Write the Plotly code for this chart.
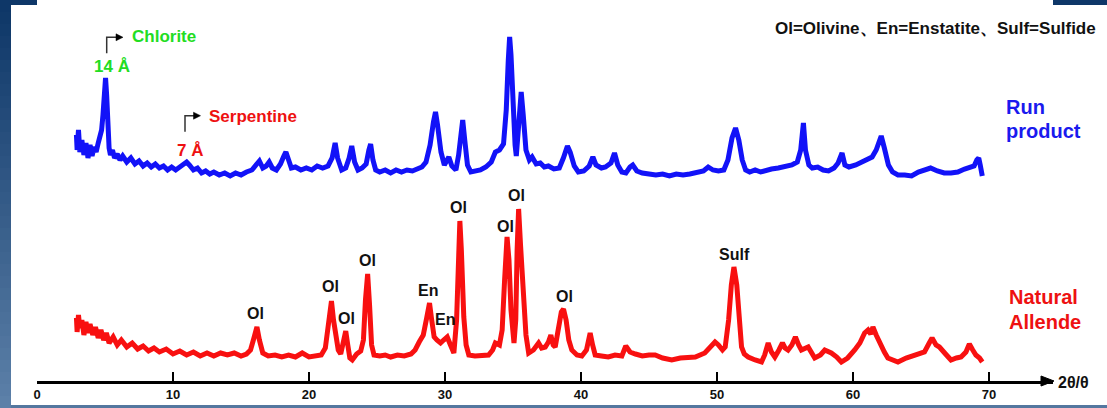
import plotly.graph_objects as go

# ---------------- data (2theta in degrees, intensity in arbitrary units) ----------------
run_2theta = [2.90, 2.95, 3.05, 3.15, 3.3, 3.45, 3.6, 3.75, 3.9, 4.05, 4.2, 4.35, 4.5, 4.6, 4.75, 4.85, 4.95, 5.04,
              5.12, 5.2, 5.3, 5.4, 5.55, 5.7, 5.9, 6.1, 6.3, 6.6, 6.9, 7.2, 7.5, 7.8, 8.1, 8.4, 8.7, 9.0, 9.3, 9.6,
              9.9, 10.2, 10.5, 10.8, 11.0, 11.2, 11.5, 11.8, 12.1, 12.4, 12.7, 13.0, 13.4, 13.8, 14.2, 14.6, 15.0,
              15.4, 15.8, 16.1, 16.35, 16.6, 16.85, 17.07, 17.3, 17.6, 17.9, 18.15, 18.3, 18.5, 18.7, 19.0, 19.4,
              19.8, 20.2, 20.6, 21.0, 21.4, 21.7, 21.92, 22.1, 22.4, 22.7, 22.95, 23.14, 23.35, 23.6, 23.9, 24.2,
              24.4, 24.53, 24.7, 24.9, 25.2, 25.6, 26.0, 26.4, 26.8, 27.2, 27.6, 28.0, 28.3, 28.6, 28.9, 29.15,
              29.3, 29.45, 29.7, 29.95, 30.1, 30.28, 30.5, 30.8, 31.0, 31.2, 31.3, 31.45, 31.65, 31.9, 32.2, 32.6,
              33.0, 33.4, 33.7, 34.0, 34.3, 34.5, 34.65, 34.75, 34.85, 35.0, 35.15, 35.24, 35.4, 35.6, 35.75,
              35.95, 36.2, 36.4, 36.7, 37.0, 37.3, 37.6, 38.0, 38.4, 38.7, 39.0, 39.2, 39.5, 39.8, 40.2, 40.6,
              40.87, 41.1, 41.5, 41.8, 42.2, 42.46, 42.7, 43.0, 43.3, 43.6, 43.8, 44.1, 44.5, 45.0, 45.5, 46.0,
              46.5, 47.0, 47.5, 48.0, 48.5, 49.0, 49.35, 49.7, 50.1, 50.5, 50.8, 51.1, 51.36, 51.6, 51.85, 52.1,
              52.4, 52.8, 53.2, 53.6, 54.0, 54.5, 55.0, 55.5, 55.9, 56.15, 56.35, 56.5, 56.75, 57.0, 57.4, 57.8,
              58.2, 58.6, 58.9, 59.19, 59.4, 59.7, 60.2, 60.6, 61.0, 61.4, 61.7, 61.9, 62.07, 62.3, 62.6, 62.9,
              63.3, 63.8, 64.3, 64.8, 65.2, 65.7, 66.2, 66.7, 67.2, 67.7, 68.2, 68.6, 68.9, 69.1, 69.24, 69.35, 69.5]
run_product = [76, 61, 81, 59, 71, 56, 68, 53, 66, 55, 64, 59, 68, 73, 81, 96, 121, 133,
               116, 86, 63, 56, 61, 53, 57, 51, 55, 49, 53, 47, 50, 45, 48, 44, 47, 43, 45, 41,
               44, 41, 44, 48, 49, 46, 41, 43, 38, 40, 37, 39, 36, 38, 35, 38, 36,
               39, 41, 46, 50, 43, 45, 49, 43, 41, 47, 55, 59, 51, 43, 44, 41,
               43, 41, 45, 43, 45, 53, 68, 53, 41, 43, 53, 65, 49, 41, 43, 47,
               61, 67, 51, 41, 39, 41, 38, 41, 39, 41, 40, 42, 44, 49, 66, 89,
               99, 86, 59, 46, 51, 54, 45, 41, 56, 86, 91, 71, 46, 39, 40, 41,
               44, 49, 59, 61, 67, 101, 151, 174, 156, 101, 66, 55, 86, 119, 96,
               61, 51, 54, 47, 48, 44, 45, 42, 43, 53, 65, 59, 45, 39, 40, 45,
               54, 46, 43, 44, 48, 58, 46, 39, 38, 44, 46, 40, 38, 37, 36, 37,
               35, 37, 36, 37, 39, 40, 44, 41, 40, 41, 51, 73, 83, 71, 51, 41,
               39, 41, 39, 41, 42, 43, 45, 46, 49, 61, 88, 61, 46, 43, 44, 41,
               40, 43, 48, 58, 46, 44, 46, 49, 51, 54, 61, 71, 75, 63, 46, 39,
               36, 36, 35, 39, 41, 43, 40, 38, 38, 39, 42, 44, 45, 51, 53, 46, 35]

nat_2theta = [2.90, 2.95, 3.05, 3.15, 3.3, 3.45, 3.6, 3.75, 3.9, 4.1, 4.3, 4.5, 4.7, 4.9, 5.1, 5.3, 5.6, 5.9, 6.2,
              6.6, 7.0, 7.4, 7.8, 8.2, 8.6, 9.0, 9.5, 10.0, 10.5, 11.0, 11.5, 12.0, 12.5, 13.0, 13.5, 14.0, 14.5,
              15.0, 15.4, 15.7, 15.95, 16.17, 16.35, 16.6, 17.0, 17.5, 18.0, 18.5, 19.0, 19.5, 20.0, 20.5, 20.9,
              21.2, 21.45, 21.65, 21.8, 21.95, 22.15, 22.33, 22.55, 22.7, 22.85, 23.0, 23.18, 23.5, 23.8, 24.0,
              24.15, 24.31, 24.45, 24.6, 24.78, 25.2, 25.6, 26.0, 26.5, 27.0, 27.5, 27.8, 28.1, 28.4, 28.65, 28.86,
              29.0, 29.2, 29.4, 29.67, 29.9, 30.16, 30.4, 30.65, 30.85, 30.98, 31.09, 31.2, 31.38, 31.55, 31.75,
              32.2, 32.7, 33.2, 33.5, 33.7, 34.0, 34.2, 34.38, 34.56, 34.7, 34.85, 35.07, 35.2, 35.3, 35.41, 35.55,
              35.78, 35.95, 36.15, 36.5, 36.88, 37.1, 37.37, 37.6, 37.78, 37.95, 38.1, 38.35, 38.55, 38.71, 38.9,
              39.1, 39.32, 39.7, 40.06, 40.4, 40.67, 40.85, 41.04, 41.5, 42.0, 42.5, 43.0, 43.29, 43.6, 44.0, 44.5,
              45.0, 45.45, 46.0, 46.67, 47.3, 47.89, 48.4, 49.1, 49.5, 49.85, 50.1, 50.4, 50.6, 50.85, 51.05, 51.24,
              51.45, 51.65, 51.8, 52.0, 52.29, 52.8, 53.27, 53.5, 53.76, 54.0, 54.25, 54.55, 54.81, 55.0, 55.22,
              55.5, 55.76, 56.0, 56.2, 56.7, 57.18, 57.6, 57.92, 58.4, 58.8, 59.14, 59.6, 60.12, 60.5, 60.85, 61.1,
              61.3, 61.46, 61.7, 61.95, 62.3, 62.56, 63.0, 63.3, 63.9, 64.52, 65.0, 65.25, 65.6, 65.81, 66.1, 66.35,
              66.8, 67.2, 67.6, 67.94, 68.3, 68.55, 68.8, 69.03, 69.3, 69.5]
natural_allende = [63, 49, 66, 53, 61, 46, 59, 48, 57, 46, 54, 43, 51, 41, 48, 38, 44, 36, 41,
                   34, 38, 32, 35, 30, 33, 29, 32, 27, 30, 26, 29, 25, 28, 25, 28, 26, 28,
                   25, 27, 31, 43, 54, 41, 28, 25, 26, 24, 26, 24, 28, 24, 25, 26,
                   33, 61, 80, 61, 46, 31, 27, 41, 50, 36, 23, 21, 27, 30, 41,
                   81, 107, 76, 36, 26, 25, 26, 24, 26, 25, 27, 31, 39, 46, 63, 78,
                   63, 44, 41, 38, 41, 44, 36, 28, 61, 121, 160, 131, 64, 36, 26,
                   25, 25, 26, 31, 38, 36, 51, 101, 144, 121, 71, 38, 61, 131, 172, 136,
                   84, 46, 28, 31, 38, 33, 34, 39, 46, 36, 34, 51, 69, 72, 61,
                   41, 31, 26, 25, 31, 48, 36, 26, 25, 24, 26, 25, 35, 29, 27, 25,
                   26, 26, 23, 21, 23, 23, 24, 28, 33, 39, 36, 31, 34, 61, 96, 114,
                   96, 61, 34, 27, 24, 21, 19, 26, 38, 29, 24, 31, 38, 33, 31,
                   36, 44, 36, 31, 34, 23, 26, 31, 28, 24, 19, 23, 31, 38, 48, 51,
                   47, 54, 46, 38, 29, 23, 21, 19, 23, 26, 28, 29, 38, 43, 36, 34,
                   27, 21, 23, 24, 29, 37, 31, 26, 23, 19]

tick_values = [0, 10, 20, 30, 40, 50, 60, 70]

# peak labels: text, 2theta position, label height
peak_labels = ["Ol", "Ol", "Ol", "Ol", "En", "En", "Ol", "Ol", "Ol", "Ol", "Sulf"]
peak_label_x = [16.05, 21.6, 22.74, 24.28, 28.76, 29.98, 30.96, 34.48, 35.29, 38.77, 51.26]
peak_label_y = [67.7, 95, 62.7, 121, 91, 62, 173.7, 154.3, 186, 85, 127]

RUN_OFFSET = 170  # vertical stacking offset of the run product pattern

# ---------------- geometry helpers (pixel -> paper) ----------------
W, H = 1107, 408
ML, MR, MB, MT = 37, 54, 27, 0
PW, PH = W - ML - MR, H - MB - MT
XMAX = 74.7


def px(x):
    return (x - ML) / PW


def py(y):
    return (H - MB - y) / PH


FONT = "Liberation Sans, Arial, sans-serif"

fig = go.Figure()
fig.add_trace(go.Scatter(x=run_2theta, y=[v + RUN_OFFSET for v in run_product], mode="lines",
                         line=dict(color="#1212f8", width=5), showlegend=False, hoverinfo="skip"))
fig.add_trace(go.Scatter(x=nat_2theta, y=natural_allende, mode="lines",
                         line=dict(color="#f81010", width=5), showlegend=False, hoverinfo="skip"))

shapes = []
# white panel
shapes.append(dict(type="rect", xref="paper", yref="paper", x0=px(11), x1=px(1108), y0=py(405), y1=py(5),
                   fillcolor="white", line=dict(width=0), layer="below"))
# left gradient strip
n = 34
for i in range(n):
    t = i / (n - 1)
    r = int(14 + t * (92 - 14))
    g = int(55 + t * (128 - 55))
    b = int(104 + t * (168 - 104))
    shapes.append(dict(type="rect", xref="paper", yref="paper", x0=px(-1), x1=px(11),
                       y0=py(min(409, (i + 1) * 12 + 0.5)), y1=py(i * 12), fillcolor=f"rgb({r},{g},{b})",
                       line=dict(width=0), layer="below"))
# bottom strip
shapes.append(dict(type="rect", xref="paper", yref="paper", x0=px(11), x1=px(1108), y0=py(409), y1=py(405),
                   fillcolor="#54779f", line=dict(width=0), layer="below"))
# axis arrow head
shapes.append(dict(type="path", xref="paper", yref="paper",
                   path=f"M {px(1041)},{py(376)} L {px(1054)},{py(381)} L {px(1041)},{py(386)} Z",
                   fillcolor="black", line=dict(color="black", width=1)))
# bent arrows (Chlorite, Serpentine)
for (vx, ytop, ybot, xend) in [(106.7, 37.3, 53.3, 123), (185, 115.7, 131.7, 200.5)]:
    shapes.append(dict(type="path", xref="paper", yref="paper",
                       path=f"M {px(vx)},{py(ybot)} L {px(vx)},{py(ytop)} L {px(xend - 6)},{py(ytop)}",
                       line=dict(color="#333333", width=1.5)))
    shapes.append(dict(type="path", xref="paper", yref="paper",
                       path=f"M {px(xend - 7)},{py(ytop - 3.5)} L {px(xend)},{py(ytop)} L {px(xend - 7)},{py(ytop + 3.5)} Z",
                       fillcolor="black", line=dict(color="black", width=0.5)))

annotations = []
for t, x, y in zip(peak_labels, peak_label_x, peak_label_y):
    annotations.append(dict(x=x, y=y, xref="x", yref="y", text=f"<b>{t}</b>", showarrow=False,
                            font=dict(family=FONT, size=16, color="#111111"), xanchor="center", yanchor="middle"))


def ann(x, y, text, size, color, xanchor="left"):
    annotations.append(dict(x=px(x), y=py(y), xref="paper", yref="paper", text=f"<b>{text}</b>",
                            showarrow=False, font=dict(family=FONT, size=size, color=color),
                            xanchor=xanchor, yanchor="middle"))


ann(1098, 28, "Ol=Olivine、En=Enstatite、Sulf=Sulfide", 17, "#111111", "right")
ann(1004, 107, "Run", 20, "#1a1aee")
ann(1004, 131, "product", 20, "#1a1aee")
ann(1007, 297, "Natural", 20, "#ee1111")
ann(1007, 322, "Allende", 20, "#ee1111")
ann(112, 66.7, "14 Å", 17, "#22dd22", "center")
ann(130, 36, "Chlorite", 17, "#22dd22")
ann(189.5, 150.7, "7 Å", 17, "#ee1111", "center")
ann(206.7, 116, "Serpentine", 17, "#ee1111")
ann(1056, 382, "2θ/θ", 16, "#111111")

fig.update_layout(
    width=W, height=H, margin=dict(l=ML, r=MR, t=MT, b=MB, pad=0),
    paper_bgcolor="#0e3768", plot_bgcolor="white",
    shapes=shapes, annotations=annotations, showlegend=False,
    xaxis=dict(range=[0, XMAX], showgrid=False, zeroline=False, showline=True, linecolor="black", linewidth=2.5,
               ticks="inside", ticklen=9, tickwidth=2, tickcolor="black", tickvals=tick_values,
               tickfont=dict(family=FONT, size=13, color="#111111", weight="bold"), ticklabelstandoff=0,
               fixedrange=True),
    yaxis=dict(range=[0, PH], visible=False, fixedrange=True),
)

fig.write_html("out.html", config={"displayModeBar": False},
               post_script="document.body.style.margin='0';document.body.style.overflow='hidden';")
